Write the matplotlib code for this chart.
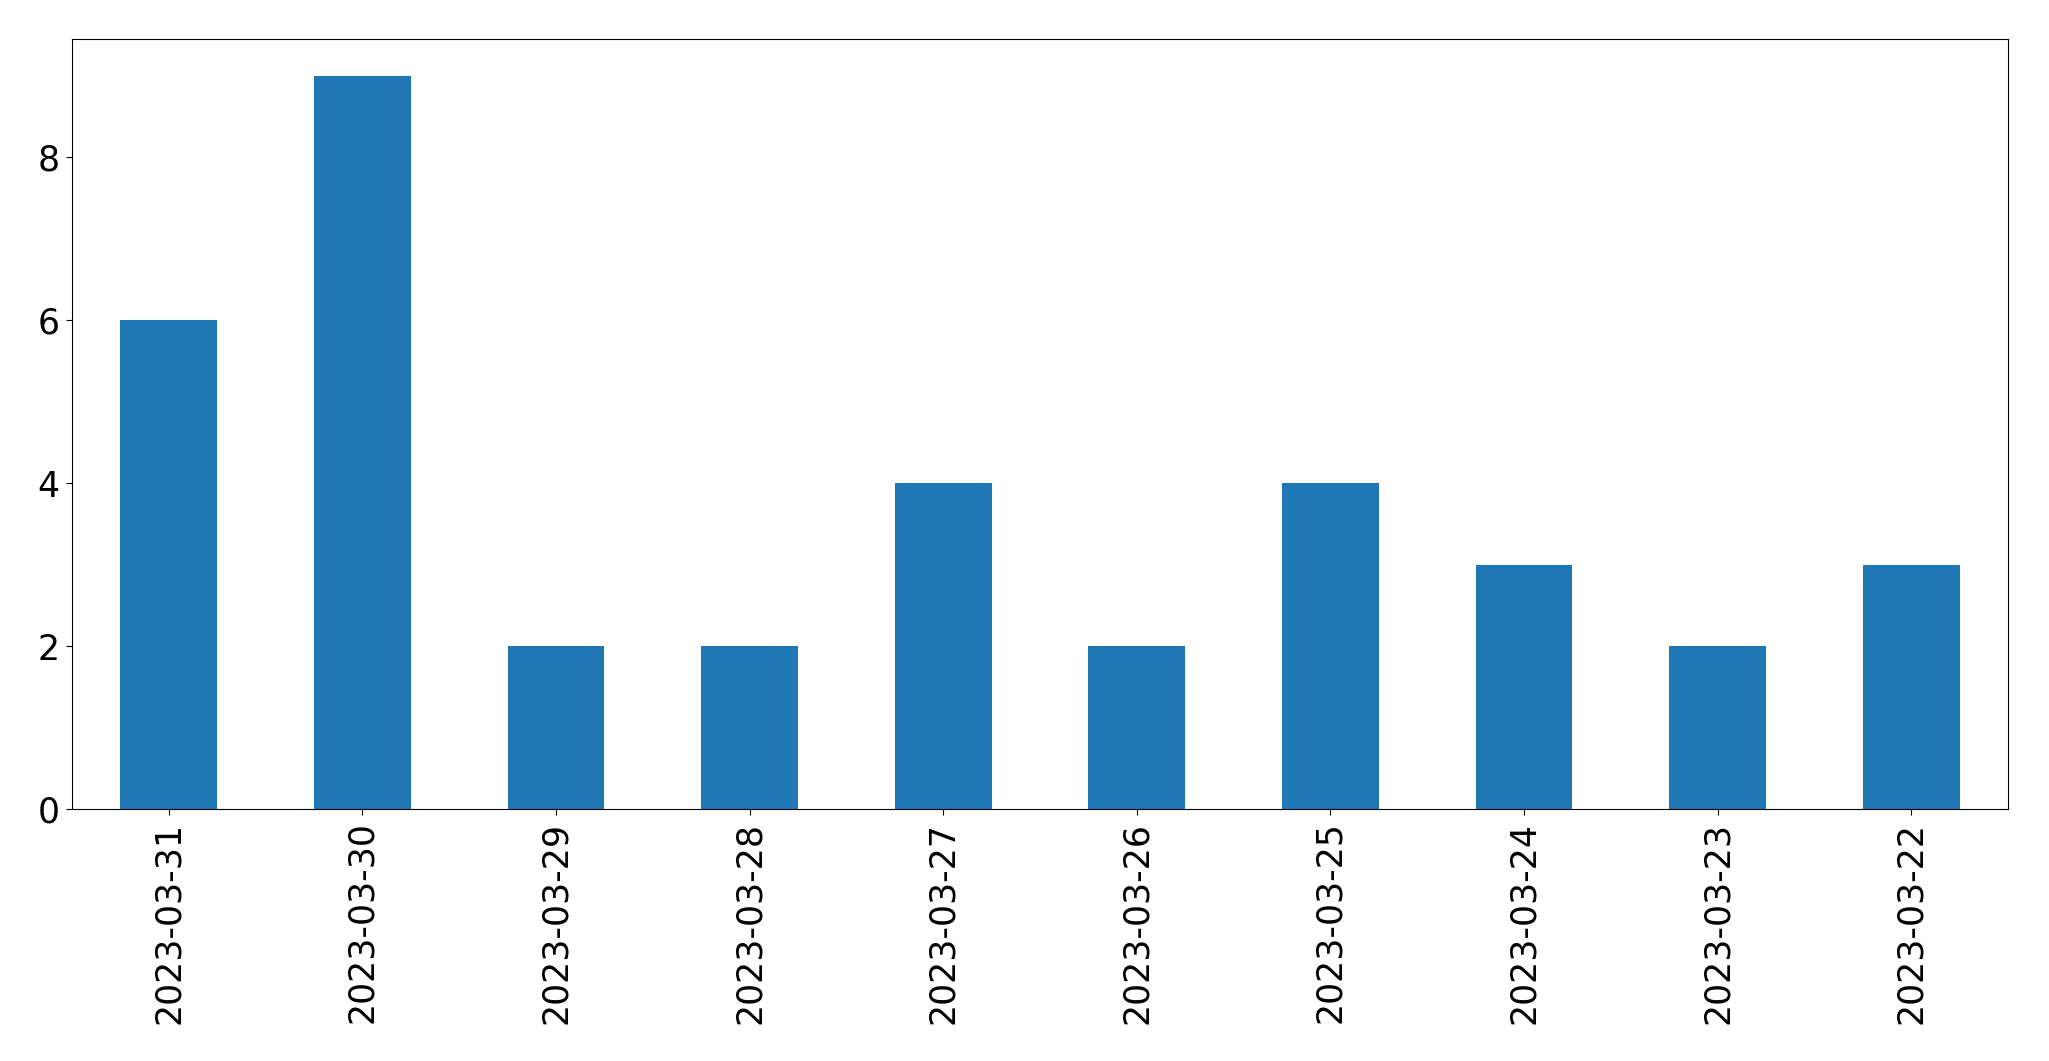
import matplotlib
matplotlib.use("Agg")
import matplotlib.pyplot as plt

dates = ["2023-03-31", "2023-03-30", "2023-03-29", "2023-03-28", "2023-03-27",
         "2023-03-26", "2023-03-25", "2023-03-24", "2023-03-23", "2023-03-22"]
counts = [6, 9, 2, 2, 4, 2, 4, 3, 2, 3]

fig = plt.figure(figsize=(20.49, 10.61), dpi=100)
ax = fig.add_axes([0.0351, 0.2375, 0.9449, 0.7257])
x = range(len(dates))
ax.bar(x, counts, width=0.5, color="#1f77b4")
ax.set_xticks(list(x))
ax.set_xticklabels(dates, rotation=90)
ax.set_xlim(-0.5, len(dates) - 0.5)
ax.set_yticks([0, 2, 4, 6, 8])
ax.tick_params(labelsize=25, length=4.5, pad=4.5)
fig.savefig("out.png", dpi=100)
